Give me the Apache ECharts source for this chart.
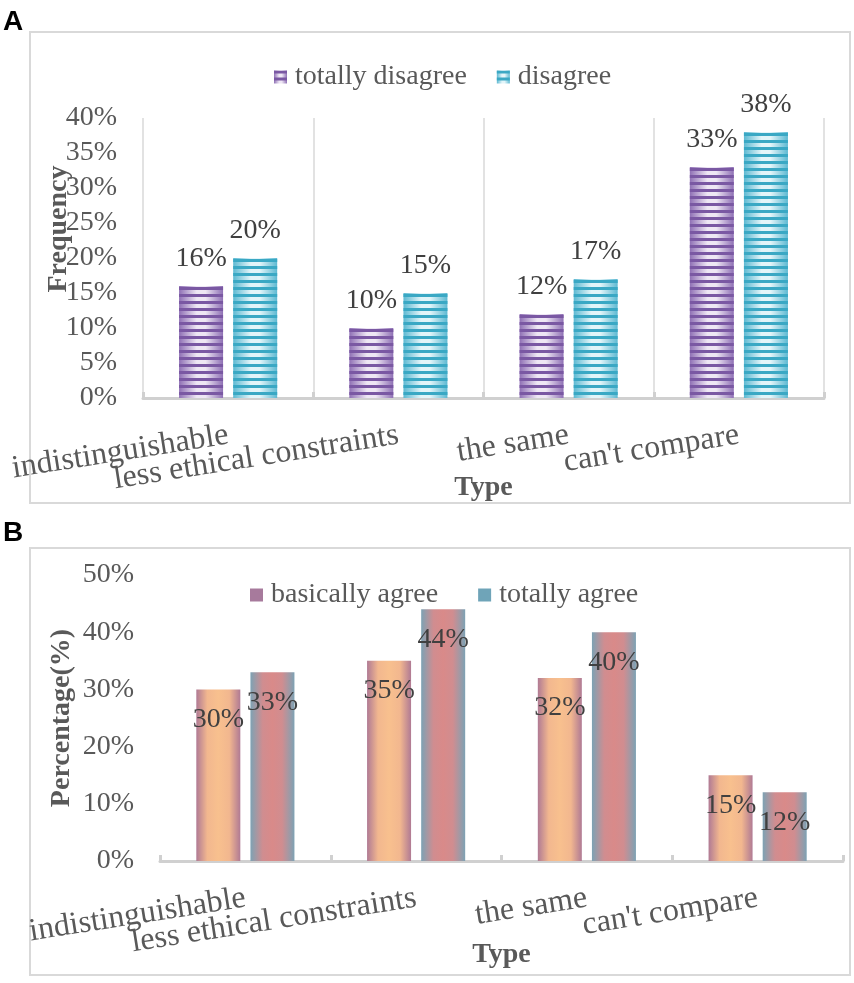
<!DOCTYPE html>
<html>
<head>
<meta charset="utf-8">
<script src="https://cdn.jsdelivr.net/npm/echarts@6/dist/echarts.min.js"></script>
<style>
html,body{margin:0;padding:0;background:#fff;}
#chart{width:854px;height:983px;}
</style>
</head>
<body>
<div id="chart"></div>
<script>
// ---- data ----
var categories = ["indistinguishable", "less ethical constraints", "the same", "can't compare"];
var seriesA1Name = "totally disagree";
var seriesA1 = [16, 10, 12, 33];
var seriesA2Name = "disagree";
var seriesA2 = [20, 15, 17, 38];
var seriesB1Name = "basically agree";
var seriesB1 = [30, 35, 32, 15];
var seriesB2Name = "totally agree";
var seriesB2 = [33, 44, 40, 12];
var yTicksA = {min: 0, max: 40, interval: 5};
var yTicksB = {min: 0, max: 50, interval: 10};

var FONT = "'Liberation Serif', 'DejaVu Serif', serif";
var GRAY = "#595959";
var AXIS_GRAY = "#D0D0D0";

function hGrad(stops) {
  return {type: 'linear', x: 0, y: 0, x2: 1, y2: 0,
    colorStops: stops.map(function (s) { return {offset: s[0], color: s[1]}; })};
}
function stripeDecal(color) {
  return {symbol: 'rect', symbolSize: 1, dashArrayX: [1, 0], dashArrayY: [3, 4], rotation: 0, color: color};
}

var chart = echarts.init(document.getElementById('chart'), null, {renderer: 'canvas'});

var xAxisCommon = function (gridIndex, nameGap, showSplit) {
  return {
    type: 'category', gridIndex: gridIndex, data: categories,
    name: 'Type', nameLocation: 'middle', nameGap: nameGap, nameMoveOverlap: false,
    nameTextStyle: {fontFamily: FONT, fontWeight: 'bold', fontSize: 28, color: GRAY},
    axisLine: {show: true, lineStyle: {color: AXIS_GRAY, width: 3}},
    axisTick: {show: true, inside: true, length: 6, lineStyle: {color: AXIS_GRAY, width: 3}},
    axisLabel: {interval: 0, rotate: 9, margin: 37, fontFamily: FONT, fontSize: 32, color: GRAY},
    splitLine: {show: showSplit, lineStyle: {color: '#D9D9D9', width: 1.5}}
  };
};

var option = {
  animation: false,
  backgroundColor: '#fff',
  graphic: [
    {type: 'rect', shape: {x: 30, y: 32, width: 820, height: 471}, style: {fill: 'none', stroke: '#D9D9D9', lineWidth: 2}},
    {type: 'rect', shape: {x: 30, y: 548, width: 820, height: 427}, style: {fill: 'none', stroke: '#D9D9D9', lineWidth: 2}},
    {type: 'text', left: 3, top: 8, style: {text: 'A', font: 'bold 28px "Liberation Sans"', fill: '#000'}},
    {type: 'text', left: 3, top: 519, style: {text: 'B', font: 'bold 28px "Liberation Sans"', fill: '#000'}}
  ],
  legend: [
    {
      left: 269, top: 58, itemWidth: 13, itemHeight: 13, itemGap: 30, icon: 'rect',
      textStyle: {fontFamily: FONT, fontSize: 28, color: GRAY, padding: [0, 0, 0, 3]},
      data: [seriesA1Name, seriesA2Name]
    },
    {
      left: 245, top: 576, itemWidth: 13, itemHeight: 13, itemGap: 40, icon: 'rect',
      textStyle: {fontFamily: FONT, fontSize: 28, color: GRAY, padding: [0, 0, 0, 3]},
      data: [
        {name: seriesB1Name, itemStyle: {color: '#A77A9C'}},
        {name: seriesB2Name, itemStyle: {color: '#6FA4B8'}}
      ]
    }
  ],
  grid: [
    {left: 143, right: 30, top: 118, bottom: 585, outerBoundsMode: 'none', containLabel: false},
    {left: 160, right: 11, top: 575, bottom: 122, outerBoundsMode: 'none', containLabel: false}
  ],
  xAxis: [xAxisCommon(0, 76, true), xAxisCommon(1, 80, false)],
  yAxis: [
    {
      type: 'value', gridIndex: 0, min: yTicksA.min, max: yTicksA.max, interval: yTicksA.interval,
      name: 'Frequency', nameLocation: 'middle', nameGap: 70, nameRotate: 90, nameMoveOverlap: false,
      nameTextStyle: {fontFamily: FONT, fontWeight: 'bold', fontSize: 28, color: GRAY, padding: [0, 0, 0, 58]},
      axisLine: {show: false}, axisTick: {show: false}, splitLine: {show: false},
      axisLabel: {formatter: '{value}%', margin: 26, fontFamily: FONT, fontSize: 28, color: GRAY}
    },
    {
      type: 'value', gridIndex: 1, min: yTicksB.min, max: yTicksB.max, interval: yTicksB.interval,
      name: 'Percentage(%)', nameLocation: 'middle', nameGap: 84, nameRotate: 90, nameMoveOverlap: false,
      nameTextStyle: {fontFamily: FONT, fontWeight: 'bold', fontSize: 28, color: GRAY},
      axisLine: {show: false}, axisTick: {show: false}, splitLine: {show: false},
      axisLabel: {formatter: '{value}%', margin: 26, fontFamily: FONT, fontSize: 28, color: GRAY}
    }
  ],
  series: [
    {
      name: seriesA1Name, type: 'bar', xAxisIndex: 0, yAxisIndex: 0, data: seriesA1,
      barWidth: 44, barGap: '23%',
      itemStyle: {
        color: hGrad([[0, '#8F70B5'], [0.4, '#EEE7F4'], [0.6, '#EEE7F4'], [1, '#8F70B5']]),
        decal: stripeDecal('#7A58A3')
      },
      label: {show: true, position: 'top', distance: 13, formatter: '{c}%', fontFamily: FONT, fontSize: 28, color: '#404040'}
    },
    {
      name: seriesA2Name, type: 'bar', xAxisIndex: 0, yAxisIndex: 0, data: seriesA2,
      barWidth: 44, barGap: '23%',
      itemStyle: {
        color: hGrad([[0, '#5DB9D2'], [0.4, '#E3F5F9'], [0.6, '#E3F5F9'], [1, '#5DB9D2']]),
        decal: stripeDecal('#3AA8C4')
      },
      label: {show: true, position: 'top', distance: 13, formatter: '{c}%', fontFamily: FONT, fontSize: 28, color: '#404040'}
    },
    {
      name: seriesB1Name, type: 'bar', xAxisIndex: 1, yAxisIndex: 1, data: seriesB1,
      barWidth: 44, barGap: '23%',
      itemStyle: {
        color: hGrad([[0, '#B07A94'], [0.25, '#F2B78F'], [0.5, '#F8C08E'], [0.75, '#F2B78F'], [1, '#B07A94']])
      },
      label: {show: true, position: 'insideTop', distance: 16, formatter: '{c}%', fontFamily: FONT, fontSize: 28, color: '#404040'}
    },
    {
      name: seriesB2Name, type: 'bar', xAxisIndex: 1, yAxisIndex: 1, data: seriesB2,
      barWidth: 44, barGap: '23%',
      itemStyle: {
        color: hGrad([[0, '#7DA2B4'], [0.28, '#D08D90'], [0.5, '#D98A89'], [0.72, '#D08D90'], [1, '#7DA2B4']])
      },
      label: {show: true, position: 'insideTop', distance: 16, formatter: '{c}%', fontFamily: FONT, fontSize: 28, color: '#404040'}
    }
  ]
};
chart.setOption(option);
</script>
</body>
</html>
